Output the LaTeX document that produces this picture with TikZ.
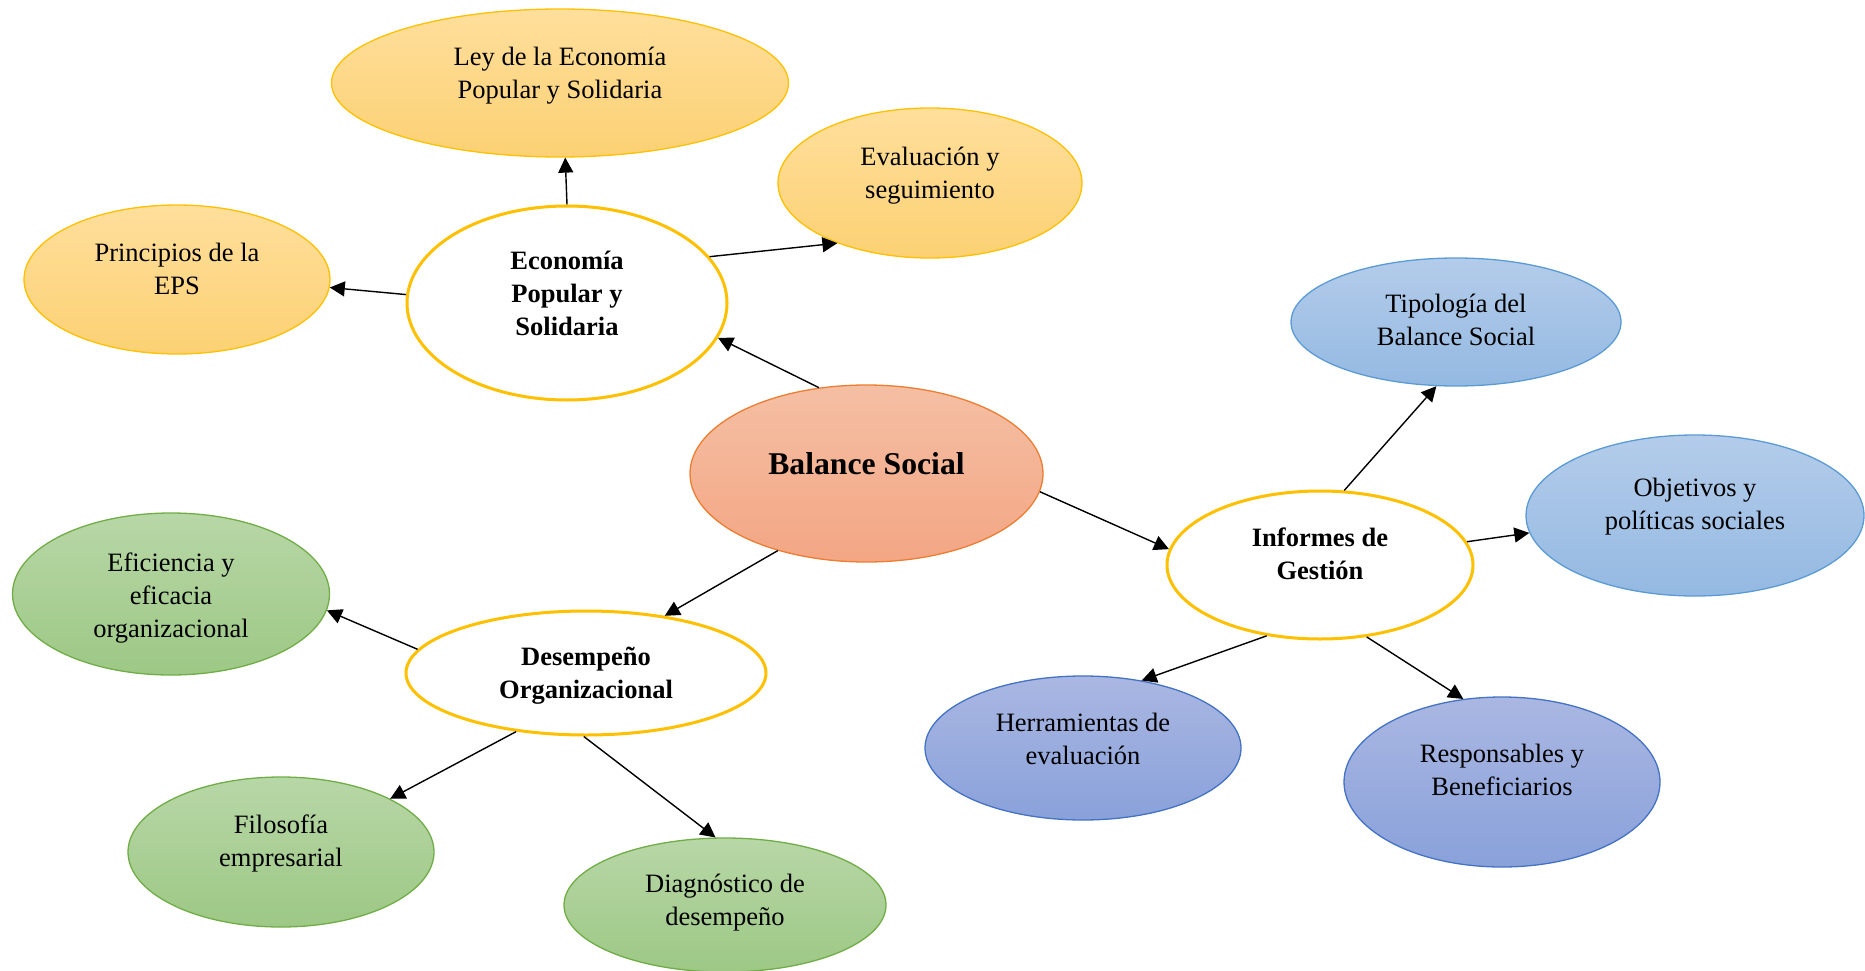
\documentclass[tikz,border=0pt]{standalone}
\usepackage{fontspec}
\setmainfont{Liberation Serif}
\usetikzlibrary{shapes.geometric,arrows.meta}
\definecolor{goldB}{HTML}{FFC000}
\definecolor{yTop}{RGB}{255,223,156}
\definecolor{yBot}{RGB}{252,209,116}
\definecolor{orB}{HTML}{ED7D31}
\definecolor{oTop}{RGB}{245,191,164}
\definecolor{oBot}{RGB}{243,166,132}
\definecolor{lbB}{HTML}{5B9BD5}
\definecolor{lbTop}{RGB}{180,204,234}
\definecolor{lbBot}{RGB}{148,185,226}
\definecolor{dbB}{HTML}{4472C4}
\definecolor{dbTop}{RGB}{170,183,226}
\definecolor{dbBot}{RGB}{137,161,218}
\definecolor{grB}{HTML}{70AD47}
\definecolor{gTop}{RGB}{184,215,167}
\definecolor{gBot}{RGB}{157,200,133}
\newcommand\mltext[1]{\begin{tabular}{@{}c@{}}#1\end{tabular}}
\begin{document}
\begin{tikzpicture}[x=1pt,y=-1pt,
  bubble/.style={ellipse, inner sep=0pt, line width=1.3pt},
  ybub/.style={bubble, draw=goldB, top color=yTop, bottom color=yBot},
  wbub/.style={bubble, draw=goldB, line width=3pt, fill=white},
  obub/.style={bubble, draw=orB, top color=oTop, bottom color=oBot},
  lbub/.style={bubble, draw=lbB, top color=lbTop, bottom color=lbBot},
  dbub/.style={bubble, draw=dbB, top color=dbTop, bottom color=dbBot},
  gbub/.style={bubble, draw=grB, top color=gTop, bottom color=gBot},
  lbl/.style={inner sep=0pt, font=\fontsize{26.5}{33}\selectfont},
  blbl/.style={inner sep=0pt, font=\fontsize{26.5}{33}\selectfont\bfseries},
  arr/.style={-{Triangle[length=15pt,width=15pt]}, line width=1.4pt, draw=black}]
\useasboundingbox (0,0) rectangle (1865,971);

% ellipses
\node[ybub, minimum width=457pt, minimum height=148pt] (ley) at (560,83) {};
\node[ybub, minimum width=304pt, minimum height=150pt] (eval) at (930,183) {};
\node[ybub, minimum width=306pt, minimum height=149pt] (prin) at (177,279.5) {};
\node[wbub, minimum width=320pt, minimum height=194pt] (eco) at (567,303) {};
\node[obub, minimum width=353pt, minimum height=177pt] (bal) at (866.5,473.5) {};
\node[lbub, minimum width=330pt, minimum height=128pt] (tip) at (1456,322) {};
\node[lbub, minimum width=338pt, minimum height=161pt] (obj) at (1695,515.5) {};
\node[wbub, minimum width=306pt, minimum height=148pt] (inf) at (1320,565) {};
\node[dbub, minimum width=316pt, minimum height=144pt] (her) at (1083,748) {};
\node[dbub, minimum width=316pt, minimum height=170pt] (res) at (1502,782) {};
\node[gbub, minimum width=317pt, minimum height=162pt] (efi) at (171,594) {};
\node[wbub, minimum width=360pt, minimum height=124pt] (des) at (586,673) {};
\node[gbub, minimum width=306pt, minimum height=150pt] (fil) at (281,852) {};
\node[gbub, minimum width=322pt, minimum height=134pt] (dia) at (725,905) {};

% texts
\node[lbl] (ley-t) at (560,75.9) {\mltext{Ley de la Economía\\Popular y Solidaria}};
\node[lbl] (eval-t) at (930,174.9) {\mltext{Evaluación y\\seguimiento}};
\node[lbl] (prin-t) at (177,271.4) {\mltext{Principios de la\\EPS}};
\node[blbl] (eco-t) at (567,295.4) {\mltext{Economía\\Popular y\\Solidaria}};
\node[inner sep=0pt, font=\fontsize{31.7}{38}\selectfont\bfseries] (bal-t) at (866.5,466.4) {\mltext{Balance Social}};
\node[lbl] (tip-t) at (1456,321.9) {\mltext{Tipología del\\Balance Social}};
\node[lbl] (obj-t) at (1695,506.4) {\mltext{Objetivos y\\políticas sociales}};
\node[blbl] (inf-t) at (1320,556.4) {\mltext{Informes de\\Gestión}};
\node[lbl] (her-t) at (1083,741.4) {\mltext{Herramientas de\\evaluación}};
\node[lbl] (res-t) at (1502,772.4) {\mltext{Responsables y\\Beneficiarios}};
\node[lbl] (efi-t) at (171,597.9) {\mltext{Eficiencia y\\eficacia\\organizacional}};
\node[blbl] (des-t) at (586,674.9) {\mltext{Desempeño\\Organizacional}};
\node[lbl] (fil-t) at (281,843.4) {\mltext{Filosofía\\empresarial}};
\node[lbl] (dia-t) at (725,902.4) {\mltext{Diagnóstico de\\desempeño}};

% connectors
\draw[arr] (bal.119) -- (eco.-13);
\draw[arr] (eco.90) -- (ley.-86);
\draw[arr] (eco.18) -- (eval.213);
\draw[arr] (eco.177) -- (prin.-3);
\draw[arr] (bal.-6) -- (inf.174);
\draw[arr] (inf.72) -- (tip.253);
\draw[arr] (inf.9) -- (obj.186);
\draw[arr] (inf.233) -- (her.49);
\draw[arr] (inf.-57) -- (res.115);
\draw[arr] (bal.221) -- (des.36);
\draw[arr] (des.172) -- (efi.-6);
\draw[arr] (des.220) -- (fil.26);
\draw[arr] (des.-92) -- (dia.98);
\end{tikzpicture}
\end{document}
